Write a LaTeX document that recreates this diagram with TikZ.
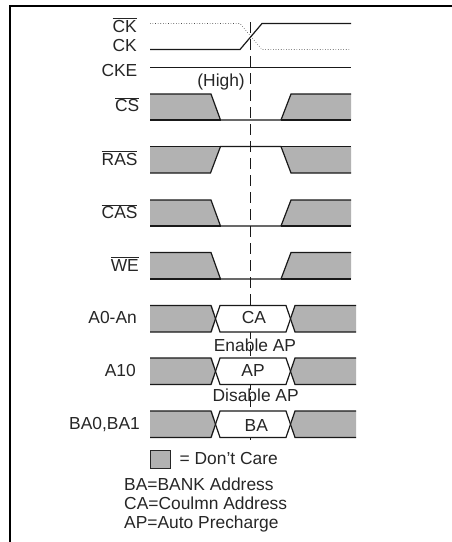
\documentclass[tikz,border=0pt]{standalone}
\usepackage{fontspec}
\setmainfont{Liberation Sans}
\tikzset{x=1pt,y=-1pt,
 sig/.style={line width=1.2pt,black!90},
 gray fill/.style={fill=black!30,draw=none},
 lbl/.style={font=\fontsize{17.4}{20}\selectfont,inner sep=0pt,text=black!85},
 sigl/.style={lbl,anchor=base east},
 ctr/.style={lbl,anchor=base},
 txl/.style={lbl,anchor=base west},
 frameline/.style={line width=2pt,black}}
\newcommand{\ol}[1]{$\overline{\mbox{#1}}$}
\newcommand{\lowsig}[2]{% top, bottom
 \fill[gray fill] (150,#1)--(211,#1)--(220.5,#2)--(150,#2)--cycle;
 \fill[gray fill] (351,#1)--(291,#1)--(281,#2)--(351,#2)--cycle;
 \draw[sig] (150,#1)--(211,#1)--(220.5,#2)--(281,#2)--(291,#1)--(351,#1);
 \draw[sig] (150,#2)--(220.5,#2) (281,#2)--(351,#2);}
\newcommand{\highsig}[2]{%
 \fill[gray fill] (150,#1)--(220.5,#1)--(210.5,#2)--(150,#2)--cycle;
 \fill[gray fill] (351,#1)--(281,#1)--(291,#2)--(351,#2)--cycle;
 \draw[sig] (150,#2)--(210.5,#2)--(220.5,#1)--(281,#1)--(291,#2)--(351,#2);
 \draw[sig] (150,#1)--(220.5,#1) (281,#1)--(351,#1);}
\newcommand{\bussig}[2]{%
 \fill[white] (220,#1)--(286,#1)--(291,#1+13.2)--(286,#2)--(220,#2)--(216,#1+13.2)--cycle;
 \fill[gray fill] (150,#1)--(212,#1)--(216,#1+13.2)--(212,#2)--(150,#2)--cycle;
 \fill[gray fill] (356,#1)--(295,#1)--(291,#1+13.2)--(295,#2)--(356,#2)--cycle;
 \draw[sig] (150,#1)--(211,#1)--(220,#2)--(286,#2)--(295,#1)--(356,#1);
 \draw[sig] (150,#2)--(211,#2)--(220,#1)--(286,#1)--(295,#2)--(356,#2);}
\begin{document}
\begin{tikzpicture}
\useasboundingbox (0,0) rectangle (452,542);
\draw[frameline] (10,542)--(10,6)--(452,6);
\draw[sig,dash pattern=on 11pt off 6pt,line width=1.3pt] (250.5,22)--(250.5,440);
\draw[line width=0.6pt,dotted,black!70] (150,23.5)--(240,23.5)--(262,49.5)--(351,49.5);
\draw[sig] (150,49.5)--(240,49.5)--(262,23.5)--(351,23.5);
\draw[sig] (150,67.5)--(351,67.5);
\lowsig{94}{120}
\highsig{146.5}{173}
\lowsig{200}{226}
\lowsig{252.5}{279}
\bussig{305.5}{332}
\bussig{358}{384.5}
\bussig{411}{437.5}
\node[sigl] (ckb) at (137,32) {\ol{CK}};
\node[sigl] (ck) at (137,51.5) {CK};
\node[sigl] (cke) at (137.5,76.7) {CKE};
\node[sigl] (high) at (245,86.5) {(High)};
\node[sigl] (cs) at (139.5,111.7) {\ol{CS}};
\node[sigl] (ras) at (137.7,165) {\ol{RAS}};
\node[sigl] (cas) at (137.7,218.3) {\ol{CAS}};
\node[sigl] (we) at (139,271) {\ol{WE}};
\node[sigl] (a0) at (137,323.3) {A0-An};
\node[sigl] (a10) at (136,376) {A10};
\node[sigl] (ba01) at (140,429) {BA0,BA1};
\node[ctr] (ca) at (254,323.3) {CA};
\node[ctr] (ap) at (253,376) {AP};
\node[ctr] (ba) at (256.3,431) {BA};
\node[ctr] (en) at (255,351) {Enable AP};
\node[ctr] (dis) at (255.7,401.7) {Disable AP};
\node[draw=black!85,line width=1pt,fill=black!30,minimum width=20pt,minimum height=17.5pt,inner sep=0pt] (key) at (160.5,459.5) {};
\node[txl] (dc) at (179.5,464.5) {= Don't Care};
\node[txl] (t1) at (124,490) {BA=BANK Address};
\node[txl] (t2) at (124,509) {CA=Coulmn Address};
\node[txl] (t3) at (124,528.3) {AP=Auto Precharge};
\end{tikzpicture}
\end{document}
